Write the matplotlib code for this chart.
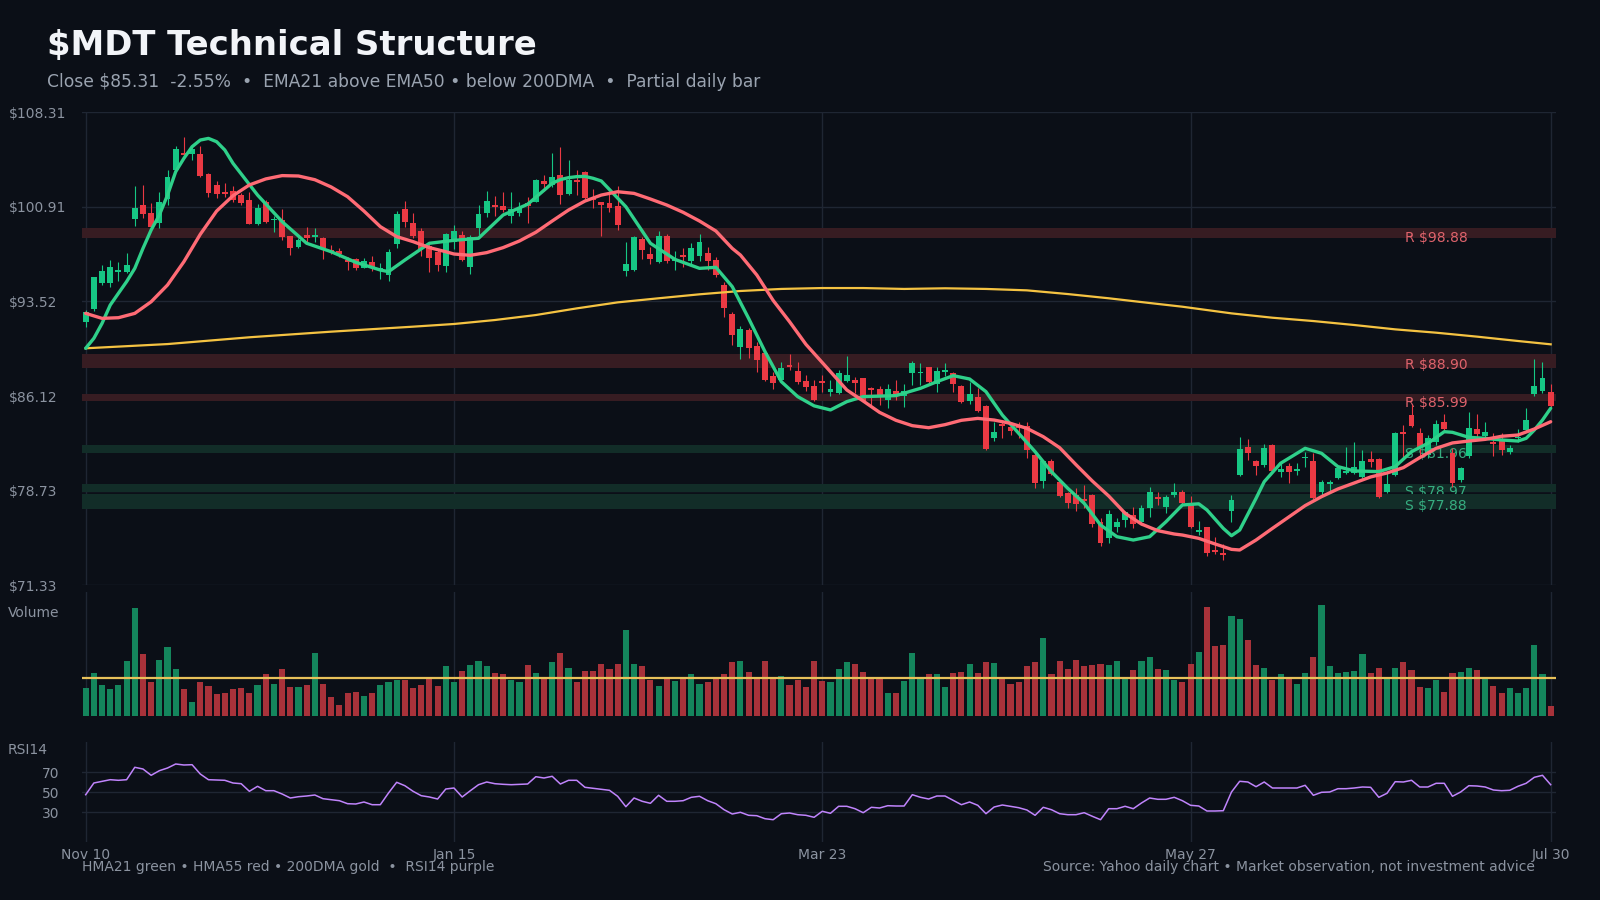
import numpy as np
import matplotlib.pyplot as plt
from matplotlib.transforms import blended_transform_factory

# daily bars, Nov 10 .. Jul 30 (last bar partial)
opens = [91.94, 92.93, 94.99, 94.99, 95.80, 95.85, 99.99, 101.06, 100.44, 99.68,
         101.56, 103.82, 105.13, 105.05, 105.05, 103.49, 102.63, 102.05, 102.16, 101.84,
         101.45, 99.55, 101.32, 99.86, 99.89, 98.64, 97.81, 98.72, 98.59, 98.51,
         97.55, 97.50, 96.76, 96.84, 96.16, 96.60, 95.98, 95.59, 98.01, 100.75,
         99.66, 99.03, 97.88, 97.39, 96.32, 98.20, 98.72, 96.24, 99.29, 100.46,
         101.06, 100.98, 100.23, 100.41, 101.19, 101.32, 102.94, 102.63, 103.41, 101.92,
         103.02, 103.62, 101.60, 101.27, 101.24, 100.98, 95.93, 95.98, 98.41, 97.23,
         96.63, 98.64, 96.68, 97.16, 96.68, 97.08, 97.28, 96.76, 94.81, 92.51,
         89.99, 91.29, 90.07, 89.47, 87.72, 87.38, 88.55, 88.08, 87.30, 86.91,
         87.30, 86.47, 86.34, 87.30, 87.38, 87.51, 86.78, 86.68, 85.82, 86.55,
         86.13, 87.90, 87.90, 88.40, 87.04, 88.03, 87.90, 86.91, 85.74, 86.05,
         85.35, 82.87, 83.94, 83.73, 83.86, 83.78, 81.52, 79.48, 81.05, 79.43,
         78.57, 78.39, 78.05, 78.39, 76.30, 75.00, 75.92, 76.43, 76.82, 76.30,
         77.40, 78.21, 77.48, 78.39, 78.65, 77.61, 75.47, 75.86, 74.09, 73.83,
         77.14, 79.95, 82.17, 81.05, 80.74, 82.30, 80.16, 80.68, 80.29, 81.26,
         81.05, 78.60, 79.25, 79.74, 80.09, 80.09, 79.82, 81.21, 81.21, 78.60,
         79.95, 83.29, 84.64, 83.21, 81.52, 82.56, 84.07, 81.65, 79.56, 81.47,
         83.55, 83.03, 82.56, 82.69, 81.78, 82.82, 83.47, 86.26, 86.52, 86.42]
highs = [92.85, 95.46, 96.37, 96.76, 96.60, 97.31, 102.55, 102.63, 101.20, 102.05,
         103.80, 105.67, 106.38, 105.62, 105.70, 103.54, 102.94, 102.76, 102.57, 102.03,
         102.05, 101.14, 101.45, 100.20, 100.75, 98.67, 98.46, 99.37, 99.24, 98.59,
         97.94, 97.68, 97.02, 96.94, 96.89, 97.08, 96.50, 97.62, 100.59, 101.37,
         100.41, 99.24, 98.07, 97.55, 98.85, 99.50, 99.03, 98.72, 101.06, 102.16,
         101.79, 102.05, 102.05, 101.27, 101.71, 103.10, 103.41, 105.10, 105.62, 104.58,
         103.80, 103.72, 102.30, 101.30, 102.05, 102.55, 98.20, 98.64, 98.59, 97.81,
         99.03, 98.77, 97.47, 97.68, 98.07, 98.77, 97.75, 96.97, 95.02, 92.67,
         91.60, 91.47, 90.33, 89.55, 88.03, 88.76, 89.44, 88.81, 87.77, 87.38,
         87.77, 87.38, 88.16, 89.28, 87.64, 87.56, 86.86, 86.94, 87.04, 87.38,
         87.04, 88.86, 88.68, 88.42, 88.42, 88.73, 88.03, 86.99, 87.20, 86.73,
         85.43, 84.07, 84.07, 84.12, 84.12, 84.12, 81.65, 81.13, 81.21, 79.56,
         78.65, 78.91, 79.17, 78.44, 76.56, 77.22, 76.56, 77.14, 77.48, 77.61,
         79.04, 78.65, 78.39, 79.35, 78.75, 78.34, 76.36, 75.92, 75.13, 74.53,
         78.39, 82.95, 82.77, 81.13, 82.35, 82.40, 80.87, 80.87, 80.87, 81.73,
         81.65, 79.56, 79.56, 80.68, 82.17, 82.51, 81.91, 81.83, 81.31, 80.09,
         83.34, 83.86, 85.43, 83.60, 83.08, 84.25, 84.69, 82.04, 80.61, 84.90,
         84.69, 84.07, 83.21, 83.21, 82.30, 83.55, 85.22, 88.99, 88.76, 87.04]
lows = [91.55, 92.80, 94.81, 94.68, 95.15, 95.72, 99.45, 100.02, 99.29, 99.29,
        101.06, 103.67, 104.71, 104.58, 103.28, 101.71, 101.58, 101.71, 101.32, 101.06,
        99.55, 99.50, 99.63, 98.98, 98.33, 97.15, 97.73, 98.07, 98.20, 96.84,
        97.21, 97.02, 95.98, 95.98, 96.11, 95.93, 95.28, 95.12, 97.73, 99.37,
        98.46, 97.10, 95.85, 95.90, 95.85, 97.62, 96.71, 95.67, 98.72, 100.15,
        100.23, 100.54, 99.63, 100.20, 99.63, 101.27, 102.16, 102.50, 101.11, 101.84,
        101.84, 101.53, 100.80, 98.67, 100.54, 99.11, 95.54, 95.93, 96.84, 96.45,
        96.50, 96.50, 95.98, 96.24, 96.29, 96.68, 95.98, 95.46, 92.33, 90.12,
        89.02, 89.13, 88.03, 87.30, 86.68, 87.25, 88.16, 87.04, 86.52, 85.74,
        86.42, 86.16, 86.26, 87.25, 86.34, 85.69, 85.30, 85.43, 85.22, 85.82,
        85.30, 86.99, 86.99, 86.99, 86.42, 87.69, 86.47, 85.56, 85.50, 84.90,
        81.91, 82.64, 82.87, 83.08, 82.82, 81.26, 78.91, 78.96, 79.95, 78.26,
        77.40, 77.14, 77.35, 75.91, 74.43, 74.61, 75.47, 75.92, 75.84, 76.04,
        76.69, 77.61, 76.95, 78.26, 77.61, 75.84, 75.26, 73.65, 73.75, 73.31,
        76.30, 79.90, 81.13, 79.95, 80.61, 80.22, 79.82, 79.30, 79.95, 80.61,
        78.08, 78.39, 78.60, 79.64, 80.01, 80.01, 79.74, 80.61, 78.18, 78.52,
        79.90, 81.39, 83.73, 81.26, 81.26, 82.30, 83.34, 79.04, 79.43, 81.26,
        82.95, 82.87, 81.47, 81.52, 81.57, 82.56, 83.34, 86.16, 86.34, 85.22]
closes = [92.67, 95.41, 95.90, 96.19, 95.95, 96.35, 100.83, 100.38, 99.37, 101.30,
          103.25, 105.44, 104.97, 105.41, 103.36, 102.03, 101.95, 101.92, 101.45, 101.24,
          99.60, 100.85, 99.76, 99.99, 98.59, 97.73, 98.35, 98.51, 98.72, 97.68,
          97.39, 97.23, 96.63, 96.16, 96.68, 96.11, 96.16, 97.39, 100.36, 99.71,
          98.67, 97.62, 96.94, 96.37, 98.77, 99.03, 96.76, 98.59, 100.36, 101.37,
          100.88, 100.67, 100.72, 100.85, 101.01, 103.02, 102.70, 103.28, 101.84, 103.02,
          102.89, 101.63, 101.45, 101.06, 100.85, 99.50, 96.45, 98.56, 97.55, 96.84,
          98.64, 96.71, 96.81, 97.02, 97.68, 98.15, 96.71, 95.59, 93.04, 90.90,
          91.37, 89.91, 88.95, 87.38, 87.17, 88.29, 88.42, 87.25, 86.86, 85.82,
          87.17, 86.68, 87.90, 87.77, 87.17, 85.74, 86.60, 86.21, 86.68, 86.29,
          86.52, 88.73, 88.03, 87.25, 88.08, 88.16, 87.09, 85.69, 86.26, 84.98,
          81.99, 83.34, 83.81, 83.39, 83.65, 81.91, 79.35, 81.05, 80.01, 78.34,
          77.79, 77.66, 77.92, 76.12, 74.61, 76.88, 76.30, 77.03, 76.12, 77.35,
          78.60, 78.08, 78.23, 78.60, 77.74, 75.92, 75.65, 73.83, 73.96, 73.70,
          77.99, 81.99, 81.70, 80.68, 82.09, 80.27, 80.42, 80.22, 80.42, 81.39,
          78.18, 79.38, 79.38, 80.48, 80.27, 80.61, 81.05, 80.95, 78.26, 79.25,
          83.21, 83.13, 83.81, 82.17, 82.82, 83.91, 83.55, 79.30, 80.48, 83.60,
          83.13, 83.29, 82.35, 81.91, 82.09, 82.95, 84.25, 86.91, 87.54, 85.31]
# volume, millions
volume = [5.2, 8.0, 5.9, 5.0, 5.9, 10.3, 20.2, 11.6, 6.3, 10.6,
          12.9, 8.9, 5.0, 2.6, 6.3, 5.6, 4.1, 4.3, 5.0, 5.2,
          4.4, 5.8, 7.8, 6.1, 8.9, 5.4, 5.4, 5.9, 11.8, 6.1,
          3.5, 2.0, 4.3, 4.6, 3.7, 4.4, 5.9, 6.3, 6.7, 6.7,
          5.2, 5.8, 7.4, 5.6, 9.3, 6.3, 8.4, 9.5, 10.4, 9.3,
          8.0, 7.8, 6.7, 6.3, 9.5, 8.0, 7.1, 10.1, 11.8, 9.1,
          6.3, 8.4, 8.4, 9.7, 8.8, 9.7, 16.1, 9.7, 9.3, 6.7,
          5.6, 6.9, 6.5, 7.4, 7.8, 6.1, 6.3, 7.1, 7.8, 10.1,
          10.3, 8.2, 7.4, 10.3, 7.4, 7.6, 5.9, 6.7, 5.4, 10.3,
          6.5, 6.3, 8.8, 10.1, 9.7, 8.2, 7.1, 6.9, 4.4, 4.4,
          6.5, 11.8, 7.4, 7.8, 7.8, 5.4, 8.0, 8.2, 9.7, 8.0,
          10.1, 9.9, 7.4, 6.1, 6.3, 9.3, 10.1, 14.6, 7.8, 10.4,
          8.8, 10.6, 9.3, 9.5, 9.7, 9.5, 10.3, 7.1, 8.6, 10.3,
          11.0, 8.9, 8.6, 6.7, 6.3, 9.7, 12.1, 20.4, 13.1, 13.4,
          18.7, 18.3, 14.2, 9.5, 9.1, 6.7, 7.8, 7.1, 6.1, 8.0,
          11.0, 20.8, 9.3, 8.0, 8.2, 8.4, 11.6, 8.0, 9.1, 7.1,
          9.1, 10.1, 8.6, 5.4, 5.2, 6.7, 4.6, 8.0, 8.2, 9.1,
          8.6, 7.1, 5.6, 4.4, 5.2, 4.3, 5.2, 13.4, 7.8, 1.8]
rsi14 = [47.3, 59.0, 60.7, 62.3, 61.7, 62.3, 74.7, 73.0, 66.7, 71.3,
         74.0, 78.0, 77.0, 77.3, 68.0, 62.3, 62.0, 61.7, 59.0, 58.3,
         50.7, 55.7, 51.3, 51.3, 48.0, 44.0, 45.3, 46.0, 47.0, 43.3,
         42.3, 41.3, 38.3, 38.0, 40.0, 37.3, 37.3, 49.0, 59.7, 56.3,
         50.7, 46.3, 45.0, 43.0, 53.0, 54.0, 45.0, 51.3, 57.3, 60.0,
         58.3, 57.7, 57.3, 57.7, 58.0, 65.3, 64.0, 65.7, 58.0, 61.7,
         61.7, 54.7, 53.7, 52.7, 51.7, 45.7, 35.3, 44.0, 40.7, 38.7,
         46.7, 40.7, 40.7, 41.3, 44.7, 45.7, 41.3, 38.3, 32.3, 28.0,
         29.7, 26.7, 26.3, 23.3, 22.3, 28.3, 29.0, 27.3, 26.7, 24.7,
         30.7, 28.7, 35.7, 35.7, 33.3, 29.3, 34.7, 34.0, 36.3, 36.0,
         36.0, 47.3, 44.7, 43.0, 46.0, 46.0, 41.7, 37.3, 40.0, 36.7,
         28.3, 35.0, 37.0, 35.7, 34.3, 32.0, 26.7, 34.7, 32.3, 28.3,
         27.3, 27.3, 29.3, 25.7, 22.3, 33.3, 33.3, 35.7, 33.3, 39.0,
         44.0, 42.7, 42.7, 44.7, 41.3, 36.7, 36.0, 31.0, 31.0, 31.3,
         50.0, 60.7, 60.0, 55.3, 60.0, 54.0, 54.0, 54.0, 54.0, 56.7,
         46.7, 49.7, 50.0, 53.3, 53.3, 54.0, 55.0, 54.7, 44.7, 48.7,
         60.3, 60.0, 61.7, 55.0, 55.0, 58.7, 58.7, 45.7, 50.0, 56.3,
         56.0, 55.0, 52.0, 51.3, 51.7, 55.7, 58.7, 64.7, 66.7, 57.3]

# indicator lines at these bar numbers
hma21_x = [0, 1, 2, 3, 4, 5, 6, 7, 8, 9, 10, 11, 12, 13, 14, 15, 16, 17, 18, 21,
           24, 27, 30, 33, 36, 37, 39, 42, 45, 48, 51, 54, 57, 58, 59, 60, 61, 62, 63, 66,
           69, 72, 75, 77, 79, 81, 83, 85, 87, 89, 91, 93, 95, 99, 102, 104,
           106, 108, 110, 112, 114, 116, 118, 120, 122, 124, 126, 128, 130, 132, 134, 136, 137, 139, 140, 141,
           143, 144, 146, 149, 151, 153, 155, 158, 160, 162, 164, 166, 167, 169, 171, 173, 175, 176, 177, 178, 179]
hma21 = [89.86, 90.64, 91.81, 93.24, 94.16, 95.07, 96.11, 97.67, 99.11, 100.28,
         101.84, 103.67, 104.71, 105.62, 106.14, 106.27, 106.01, 105.36, 104.32, 101.84,
         99.76, 98.07, 97.41, 96.58, 95.98, 95.85, 96.76, 98.07, 98.30, 98.46,
         100.28, 101.12, 102.76, 103.05, 103.20, 103.28, 103.30, 103.15, 102.94, 100.93,
         98.07, 96.81, 96.11, 96.19, 94.68, 92.20, 89.60, 87.25, 86.08, 85.36,
         85.04, 85.69, 86.08, 86.16, 86.73, 87.25,
         87.72, 87.46, 86.47, 84.64, 83.21, 81.78, 80.21, 78.91, 77.74, 76.04,
         75.13, 74.87, 75.13, 76.30, 77.61, 77.70, 77.22, 75.78, 75.21, 75.65,
         78.13, 79.43, 80.87, 82.04, 81.65, 80.61, 80.27, 80.22, 80.61, 81.78,
         82.43, 83.34, 83.29, 82.90, 82.82, 82.69, 82.61, 82.82, 83.47, 84.25, 85.17]
hma55_x = [0, 2, 4, 6, 8, 10, 12, 14, 16, 18, 20, 22, 24, 26, 28, 30, 32, 34, 36, 38,
           40, 42, 44, 45, 47, 49, 51, 53, 55, 57, 59, 61, 63, 65, 67, 69, 71, 73, 75, 77,
           79, 80, 82, 84, 86, 88, 91, 93, 95, 97, 99, 101, 103, 105, 107, 109, 111, 113, 115, 117,
           119, 121, 123, 125, 127, 129, 131, 133, 134, 136, 138, 140, 141, 143, 145, 147, 149, 151, 153, 155,
           157, 159, 161, 163, 165, 167, 169, 171, 173, 175, 177, 179]
hma55 = [92.59, 92.20, 92.25, 92.59, 93.50, 94.81, 96.63, 98.77, 100.59, 101.79,
         102.63, 103.10, 103.36, 103.33, 103.04, 102.47, 101.71, 100.59, 99.37, 98.59,
         98.20, 97.73, 97.41, 97.23, 97.13, 97.34, 97.73, 98.25, 98.93, 99.81,
         100.67, 101.37, 101.84, 102.10, 101.97, 101.53, 101.06, 100.49, 99.81, 99.03,
         97.67, 97.15, 95.59, 93.60, 91.94, 90.17, 88.03, 86.60, 85.74, 84.85,
         84.23, 83.81, 83.65, 83.89, 84.23, 84.38, 84.25, 83.99, 83.60, 82.95,
         82.09, 80.76, 79.48, 78.31, 76.96, 76.12, 75.60, 75.34, 75.26, 75.00,
         74.56, 74.14, 74.09, 74.87, 75.78, 76.67, 77.56, 78.26, 78.86, 79.33,
         79.80, 80.11, 80.53, 81.31, 82.04, 82.46, 82.61, 82.74, 82.98, 83.08, 83.55, 84.12]
dma200_x = [0, 10, 20, 30, 40, 45, 50, 55, 60, 65, 70, 75, 80, 85, 90, 95, 100,
            105, 110, 115, 120, 125, 130, 134, 140, 145, 150, 155, 160, 165, 170, 175, 179]
dma200 = [89.86, 90.19, 90.72, 91.16, 91.55, 91.76, 92.07, 92.46, 92.98, 93.45, 93.77,
          94.08, 94.34, 94.50, 94.57, 94.57, 94.50, 94.55, 94.50, 94.39, 94.10, 93.77,
          93.40, 93.11, 92.59, 92.25, 91.99, 91.68, 91.34, 91.08, 90.77, 90.43, 90.17]

zone_kind = ["R", "R", "R", "S", "S", "S"]
zone_level = [98.88, 88.90, 85.99, 81.96, 78.97, 77.88]
zone_half = [0.37, 0.55, 0.27, 0.31, 0.31, 0.55]

tick_pos = [0, 45, 90, 135, 179]
tick_lab = ["Nov 10", "Jan 15", "Mar 23", "May 27", "Jul 30"]

BG = "#0b0f17"
GRID = "#1f2633"
TXT = "#8b93a0"

o, h, l, c = map(np.array, (opens, highs, lows, closes))
vol = np.array(volume)
x = np.arange(len(c))
up = c >= o

fig = plt.figure(figsize=(16, 9), dpi=100, facecolor=BG)
L, W = 82 / 1600, 1474 / 1600
ax = fig.add_axes([L, 1 - 585.3 / 900, W, 473 / 900])
axv = fig.add_axes([L, 1 - 716 / 900, W, 124 / 900], sharex=ax)
axr = fig.add_axes([L, 1 - 842 / 900, W, 100 / 900], sharex=ax)

for a in (ax, axv, axr):
    a.set_facecolor(BG)
    for s in a.spines.values():
        s.set_visible(False)
    a.tick_params(length=0, colors=TXT, labelsize=10)
    a.set_axisbelow(True)

# price panel
ax.set_xlim(-0.45, 179.65)
ax.set_ylim(71.33, 108.31)
yt = np.linspace(71.33, 108.31, 6)
ax.set_yticks(yt)
ax.set_yticklabels([f"${v:.2f}" for v in yt])
for lab in ax.get_yticklabels():
    lab.set_horizontalalignment("left")
ax.tick_params(axis="y", pad=53)
ax.set_xticks(tick_pos)
ax.tick_params(axis="x", labelbottom=False)
ax.grid(True, color=GRID, lw=1)

tr = blended_transform_factory(ax.transAxes, ax.transData)
for kind, lvl, hw in zip(zone_kind, zone_level, zone_half):
    band = "#371c22" if kind == "R" else "#122d28"
    tcol = "#df636c" if kind == "R" else "#36ad80"
    ax.axhspan(lvl - hw, lvl + hw, color=band, lw=0, zorder=1)
    ax.annotate(f"{kind} ${lvl:.2f}", (0.8976, lvl), xycoords=tr, xytext=(0, -3.5),
                textcoords="offset points", ha="left", va="center", fontsize=10,
                color=tcol, zorder=1)

col = np.where(up, "#16c784", "#ea3943")
ax.vlines(x, l, h, colors=col, lw=0.8, zorder=3)
ax.bar(x, np.maximum(np.abs(c - o), 0.07), bottom=np.minimum(o, c), width=0.72,
       color=col, lw=0, zorder=4)

ax.plot(dma200_x, dma200, color="#f5c342", lw=1.6, zorder=5)
ax.plot(hma21_x, hma21, color="#2fd08a", lw=2.4, zorder=6,
        solid_capstyle="round", solid_joinstyle="round")
ax.plot(hma55_x, hma55, color="#ff6b75", lw=2.4, zorder=7,
        solid_capstyle="round", solid_joinstyle="round")

# volume panel
vcol = np.where(up, "#14855c", "#a8323a")
axv.bar(x, vol, width=0.75, color=vcol, lw=0)
axv.axhline(vol[-21:-1].mean(), color="#e8c15a", lw=1.6)
axv.set_ylim(0, vol.max() * 1.12)
axv.set_yticks([])
axv.tick_params(axis="x", labelbottom=False)
axv.grid(True, axis="x", color=GRID, lw=1)

# rsi panel
axr.plot(x, rsi14, color="#c084fc", lw=1.1)
axr.set_ylim(0, 100)
axr.set_yticks([30, 50, 70])
axr.tick_params(axis="y", pad=16)
axr.set_xticks(tick_pos)
axr.set_xticklabels(tick_lab)
axr.tick_params(axis="x", pad=4)
axr.grid(True, color=GRID, lw=1)

fig.text(8 / 1600, 1 - 613 / 900, "Volume", fontsize=10, color=TXT, va="center")
fig.text(8 / 1600, 1 - 750 / 900, "RSI14", fontsize=10, color=TXT, va="center")

pct = (c[-1] / c[-2] - 1) * 100
fig.text(47 / 1600, 1 - 45 / 900, "$MDT Technical Structure", fontsize=24.4,
         weight="bold", color="#f2f4f8", va="center")
fig.text(47 / 1600, 1 - 82 / 900,
         f"Close ${c[-1]:.2f}  {pct:.2f}%  \u2022  EMA21 above EMA50 \u2022 below 200DMA  \u2022  Partial daily bar",
         fontsize=12.3, color="#9aa3b0", va="center")
fig.text(82 / 1600, 1 - 867 / 900,
         "HMA21 green \u2022 HMA55 red \u2022 200DMA gold  \u2022  RSI14 purple",
         fontsize=10, color=TXT, va="center")
fig.text(1535 / 1600, 1 - 867 / 900,
         "Source: Yahoo daily chart \u2022 Market observation, not investment advice",
         fontsize=10, color=TXT, va="center", ha="right")

fig.savefig("out.png", dpi=100, facecolor=BG)
